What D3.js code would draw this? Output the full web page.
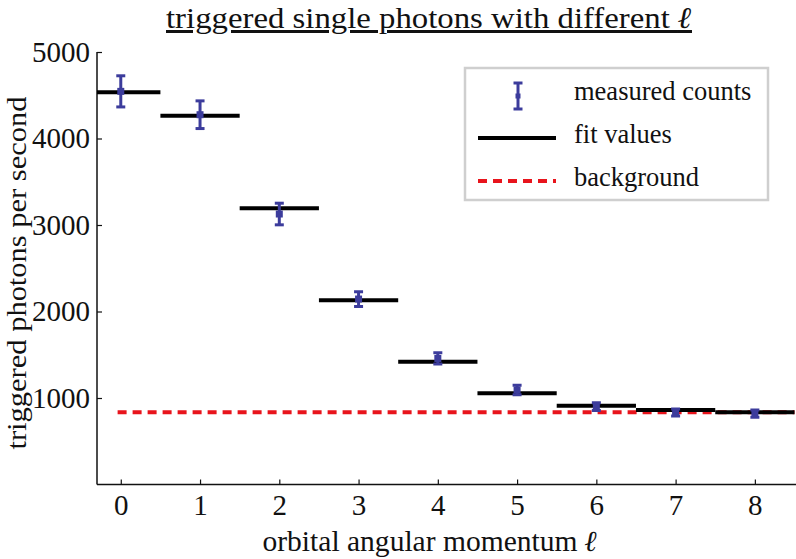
<!DOCTYPE html>
<html>
<head>
<meta charset="utf-8">
<script src="https://cdn.jsdelivr.net/npm/d3@7"></script>
<style>
  body { margin: 0; background: #fff; }
  svg text { font-family: "Liberation Serif", "DejaVu Serif", serif !important; fill: #111; }
</style>
</head>
<body>
<svg id="chart" width="796" height="559"></svg>
<script>
// ---- data ----
const ells = [0, 1, 2, 3, 4, 5, 6, 7, 8];
const measured = [4545, 4275, 3127, 2144, 1457, 1092, 900, 832, 820];
const errors = [180, 160, 125, 85, 65, 55, 45, 40, 42];
const fitValues = [4534, 4264, 3193, 2130, 1420, 1054, 911, 861, 835];
const background = 835;
const bgRange = [-0.04, 8.5];
const yTicks = [1000, 2000, 3000, 4000, 5000];
const xTicks = [0, 1, 2, 3, 4, 5, 6, 7, 8];
const titleText = "triggered single photons with different ";
const xLabel = "orbital angular momentum ";
const yLabel = "triggered photons per second";
const legendLabels = ["measured counts", "fit values", "background"];

// ---- layout ----
const svg = d3.select("#chart");
const mLeft = 97, mRight = 794.5, mTop = 52, mBottom = 484.5;
const x = d3.scaleLinear().domain([-0.3, 8.5]).range([mLeft, mRight]);
const y = d3.scaleLinear().domain([0, 5000]).range([mBottom, mTop]);
const barColor = "#3c3c9c";
const tickFs = 29;

svg.append("defs").append("clipPath").attr("id", "clip")
  .append("rect").attr("x", mLeft).attr("y", 0).attr("width", 796 - mLeft).attr("height", mBottom);

// axes
const yAxis = d3.axisLeft(y).tickValues(yTicks).tickFormat(d3.format("d"))
  .tickSizeInner(-5).tickSizeOuter(0).tickPadding(7);
const gy = svg.append("g").attr("transform", `translate(${mLeft},0)`).call(yAxis);
gy.attr("font-family", null);
gy.select(".domain").attr("d", `M0,${mTop}V${mBottom}`).attr("stroke", "#111").attr("stroke-width", 1.5);
gy.selectAll(".tick line").attr("stroke", "#111").attr("stroke-width", 1.2);
gy.selectAll(".tick text").attr("font-size", tickFs).attr("fill", "#111");

const xAxis = d3.axisBottom(x).tickValues(xTicks).tickFormat(d3.format("d"))
  .tickSizeInner(-5).tickSizeOuter(0).tickPadding(10);
const gx = svg.append("g").attr("transform", `translate(0,${mBottom})`).call(xAxis);
gx.attr("font-family", null);
gx.select(".domain").attr("d", `M${mLeft},0H796`).attr("stroke", "#111").attr("stroke-width", 1.5);
gx.selectAll(".tick line").attr("stroke", "#111").attr("stroke-width", 1.2);
gx.selectAll(".tick text").attr("font-size", tickFs).attr("fill", "#111").attr("dy", "0.71em");

const plot = svg.append("g").attr("clip-path", "url(#clip)");

// background dashed line
plot.append("line")
  .attr("x1", x(bgRange[0])).attr("x2", x(bgRange[1]))
  .attr("y1", y(background)).attr("y2", y(background))
  .attr("stroke", "#e8141c").attr("stroke-width", 4).attr("stroke-dasharray", "9,6");

// fit lines
plot.selectAll("line.fit").data(ells).enter().append("line").attr("class", "fit")
  .attr("x1", d => x(d - 0.5)).attr("x2", d => x(d + 0.5))
  .attr("y1", (d, i) => y(fitValues[i])).attr("y2", (d, i) => y(fitValues[i]))
  .attr("stroke", "#000").attr("stroke-width", 4);

// error bars
const eb = plot.selectAll("g.eb").data(ells).enter().append("g").attr("class", "eb");
eb.append("line")
  .attr("x1", d => x(d)).attr("x2", d => x(d))
  .attr("y1", (d, i) => y(measured[i] + errors[i])).attr("y2", (d, i) => y(measured[i] - errors[i]))
  .attr("stroke", barColor).attr("stroke-width", 3);
[1, -1].forEach(s => {
  eb.append("line")
    .attr("x1", d => x(d) - 4.5).attr("x2", d => x(d) + 4.5)
    .attr("y1", (d, i) => y(measured[i] + s * errors[i])).attr("y2", (d, i) => y(measured[i] + s * errors[i]))
    .attr("stroke", barColor).attr("stroke-width", 3);
});
eb.append("rect")
  .attr("x", d => x(d) - 3.5).attr("y", (d, i) => y(measured[i]) - 3.5)
  .attr("width", 7).attr("height", 7).attr("fill", barColor);

// title
const title = svg.append("text").attr("x", 429).attr("y", 28).attr("text-anchor", "middle")
  .attr("font-size", 30).attr("text-decoration", "underline")
  .attr("textLength", 526).attr("lengthAdjust", "spacingAndGlyphs");
title.append("tspan").text(titleText);
title.append("tspan").attr("font-weight", "bold").attr("font-style", "italic").text("ℓ");

// x label
const xl = svg.append("text").attr("x", 430).attr("y", 551).attr("text-anchor", "middle").attr("font-size", 29)
  .attr("textLength", 335).attr("lengthAdjust", "spacingAndGlyphs");
xl.append("tspan").text(xLabel);
xl.append("tspan").attr("font-weight", "bold").attr("font-style", "italic").text("ℓ");

// y label
svg.append("text").attr("transform", "translate(26,273) rotate(-90)").attr("text-anchor", "middle")
  .attr("font-size", 28).attr("textLength", 353).attr("lengthAdjust", "spacingAndGlyphs").text(yLabel);

// legend
const lg = svg.append("g");
lg.append("rect").attr("x", 465).attr("y", 68).attr("width", 303).attr("height", 132)
  .attr("fill", "#fff").attr("stroke", "#cfcfcf").attr("stroke-width", 2.5);
const lx = 518;
lg.append("line").attr("x1", lx).attr("x2", lx).attr("y1", 83).attr("y2", 109).attr("stroke", barColor).attr("stroke-width", 3);
[83, 109].forEach(yy => lg.append("line").attr("x1", lx - 4.5).attr("x2", lx + 4.5).attr("y1", yy).attr("y2", yy)
  .attr("stroke", barColor).attr("stroke-width", 3));
lg.append("rect").attr("x", lx - 2.5).attr("y", 93.5).attr("width", 5).attr("height", 5).attr("fill", barColor);
lg.append("line").attr("x1", 478).attr("x2", 556).attr("y1", 138).attr("y2", 138).attr("stroke", "#000").attr("stroke-width", 4);
lg.append("line").attr("x1", 478).attr("x2", 556).attr("y1", 181).attr("y2", 181).attr("stroke", "#e8141c")
  .attr("stroke-width", 4).attr("stroke-dasharray", "9,6");
const ly = [100, 143, 186];
lg.selectAll("text.lt").data(legendLabels).enter().append("text").attr("class", "lt")
  .attr("x", 574).attr("y", (d, i) => ly[i]).attr("font-size", 26.5).text(d => d);
</script>
</body>
</html>
